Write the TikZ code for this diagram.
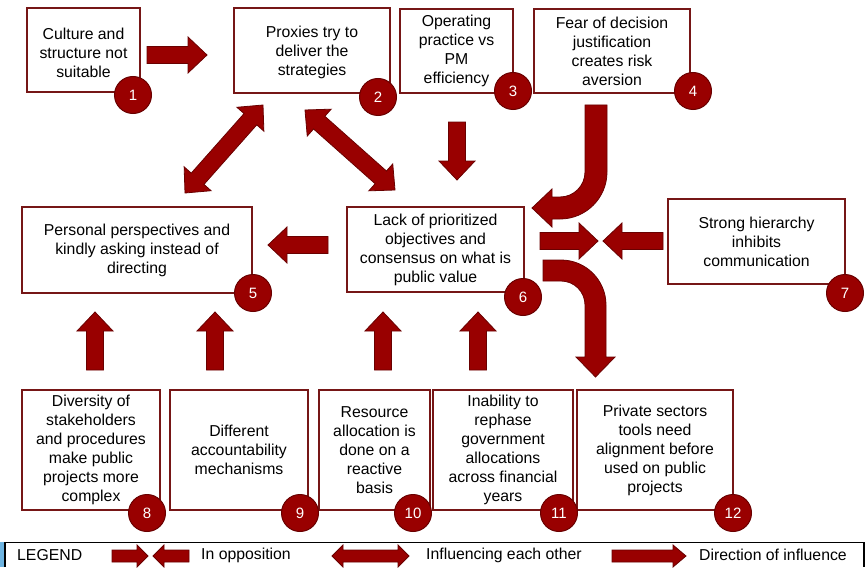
\documentclass[tikz,border=0pt]{standalone}
\usepackage{fontspec}
\setmainfont{Liberation Sans}
\usetikzlibrary{calc}

\newlength{\du}
\setlength{\du}{1pt}
\newcommand{\shaftw}{8.5pt}
\newcommand{\headw}{18pt}
\newcommand{\headl}{19pt}

\definecolor{arrowred}{RGB}{153,0,0}
\definecolor{arrowedge}{RGB}{105,0,0}
\definecolor{boxedge}{RGB}{118,22,22}
\definecolor{legendblue}{RGB}{110,180,225}

\tikzset{
  factor/.style={draw=boxedge, line width=2\du, fill=white, align=center, inner sep=0pt,
    font=\fontsize{15.8}{19}\selectfont},
  badge/.style={circle, draw=arrowedge, line width=1\du, fill=arrowred, text=white,
    minimum size=37\du, inner sep=0pt, font=\fontsize{15}{15}\selectfont},
  blockarrow/.style={draw=arrowedge, line width=0.8\du, fill=arrowred, line join=miter},
  legendtext/.style={anchor=west, inner sep=0pt, font=\fontsize{15.8}{19}\selectfont}
}

% single block arrow from #1 to #2
\newcommand{\barrow}[2]{%
  \path ($(#2)!\headl!(#1)$) coordinate (hb);
  \draw[blockarrow] ($(#1)!\shaftw!90:(#2)$) -- ($(hb)!\shaftw!-90:(#1)$) -- ($(hb)!\headw!-90:(#1)$)
    -- (#2) -- ($(hb)!\headw!90:(#1)$) -- ($(hb)!\shaftw!90:(#1)$) -- ($(#1)!\shaftw!-90:(#2)$) -- cycle;}
% block arrow with two heads
\newcommand{\dbarrow}[2]{%
  \path ($(#2)!\headl!(#1)$) coordinate (hb) ($(#1)!\headl!(#2)$) coordinate (ha);
  \draw[blockarrow] (#1) -- ($(ha)!\headw!90:(#2)$) -- ($(ha)!\shaftw!90:(#2)$) -- ($(hb)!\shaftw!-90:(#1)$)
    -- ($(hb)!\headw!-90:(#1)$) -- (#2) -- ($(hb)!\headw!90:(#1)$) -- ($(hb)!\shaftw!90:(#1)$)
    -- ($(ha)!\shaftw!-90:(#2)$) -- ($(ha)!\headw!-90:(#2)$) -- cycle;}

\begin{document}
\begin{tikzpicture}
\pgftransformxscale{1.000000}
\pgftransformyscale{-1.000000}
\useasboundingbox (0\du,0\du) rectangle (866\du,567\du);

\node[factor, minimum width=113\du, minimum height=84\du] (b1) at (83.5\du,50\du) {\rule{0pt}{17\du}Culture and\\structure not\\suitable};
\node[factor, minimum width=156\du, minimum height=85\du] (b2) at (312\du,50.5\du) {\rule{0pt}{16\du}Proxies try to\\deliver the\\strategies};
\node[factor, minimum width=113\du, minimum height=84\du] (b3) at (456.5\du,51\du) {Operating\\practice vs\\PM\\efficiency};
\node[factor, minimum width=156\du, minimum height=84\du] (b4) at (612\du,51\du) {Fear of decision\\justification\\creates risk\\aversion};
\node[factor, minimum width=230\du, minimum height=86\du] (b5) at (137\du,250\du) {Personal perspectives and\\kindly asking instead of\\directing};
\node[factor, minimum width=177\du, minimum height=85\du] (b6) at (435.5\du,249.5\du) {Lack of prioritized\\objectives and\\consensus on what is\\public value};
\node[factor, minimum width=177\du, minimum height=85\du] (b7) at (756.5\du,241.5\du) {Strong hierarchy\\inhibits\\communication};
\node[factor, minimum width=138\du, minimum height=120\du] (b8) at (91\du,450\du) {Diversity of\\stakeholders\\and procedures\\make public\\projects more\\complex};
\node[factor, minimum width=138\du, minimum height=120\du] (b9) at (239\du,450\du) {Different\\accountability\\mechanisms};
\node[factor, minimum width=111\du, minimum height=120\du] (b10) at (374.5\du,450\du) {Resource\\allocation is\\done on a\\reactive\\basis};
\node[factor, minimum width=140\du, minimum height=120\du] (b11) at (503\du,450\du) {Inability to\\rephase\\government\\allocations\\across financial\\years};
\node[factor, minimum width=156\du, minimum height=120\du] (b12) at (655\du,450\du) {Private sectors\\tools need\\alignment before\\used on public\\projects};

\node[badge] (n1) at (133\du,95\du) {1};
\node[badge] (n2) at (378\du,97\du) {2};
\node[badge] (n3) at (513\du,91\du) {3};
\node[badge] (n4) at (693\du,91\du) {4};
\node[badge] (n5) at (253\du,293\du) {5};
\node[badge] (n6) at (523\du,297\du) {6};
\node[badge] (n7) at (845\du,293\du) {7};
\node[badge] (n8) at (147\du,513\du) {8};
\node[badge] (n9) at (300\du,513\du) {9};
\node[badge] (n10) at (413\du,513\du) {10};
\node[badge] (n11) at (559\du,513\du) {11};
\node[badge] (n12) at (733\du,513\du) {12};

\coordinate (a12s) at (147\du,55\du);
\coordinate (a12e) at (207\du,55\du);
\coordinate (d25a) at (263\du,105\du);
\coordinate (d25b) at (185\du,193\du);
\coordinate (d26a) at (305\du,110\du);
\coordinate (d26b) at (395\du,190\du);
\coordinate (a36s) at (457\du,122\du);
\coordinate (a36e) at (457\du,180\du);
\coordinate (a65s) at (328\du,245\du);
\coordinate (a65e) at (268\du,245\du);
\coordinate (a6ms) at (540\du,241\du);
\coordinate (a6me) at (598\du,241\du);
\coordinate (a7ms) at (663\du,241\du);
\coordinate (a7me) at (603\du,241\du);
\coordinate (a85s) at (95\du,370\du);
\coordinate (a85e) at (95\du,312\du);
\coordinate (a95s) at (215\du,370\du);
\coordinate (a95e) at (215\du,312\du);
\coordinate (a106s) at (383\du,370\du);
\coordinate (a106e) at (383\du,312\du);
\coordinate (a116s) at (478\du,370\du);
\coordinate (a116e) at (478\du,312\du);

\barrow{a12s}{a12e}
\dbarrow{d25a}{d25b}
\dbarrow{d26a}{d26b}
\barrow{a36s}{a36e}
\barrow{a65s}{a65e}
\barrow{a6ms}{a6me}
\barrow{a7ms}{a7me}
\barrow{a85s}{a85e}
\barrow{a95s}{a95e}
\barrow{a106s}{a106e}
\barrow{a116s}{a116e}

% bent arrows 4 -> 6 and 6 -> 12
\draw[blockarrow] (607\du,105\du) -- (607\du,172\du) arc[start angle=0, end angle=90, radius=47\du]
  -- (552\du,219\du) -- (552\du,227\du) -- (532\du,208\du) -- (552\du,189\du) -- (552\du,197\du)
  -- (560\du,197\du) arc[start angle=90, end angle=0, radius=25\du] -- (585\du,105\du) -- cycle;
\draw[blockarrow] (543\du,260\du) -- (561\du,260\du) arc[start angle=-90, end angle=0, radius=45\du]
  -- (606\du,357\du) -- (615\du,357\du) -- (595.5\du,377\du) -- (576\du,357\du) -- (585\du,357\du)
  -- (585\du,305\du) arc[start angle=0, end angle=-90, radius=24\du] -- (543\du,281\du) -- cycle;

% legend
\fill[legendblue] (0\du,542\du) rectangle (4\du,567\du);
\draw[line width=1.5\du] (5\du,567\du) -- (5\du,542.5\du) -- (864\du,542.5\du) -- (864\du,567\du);
\node[legendtext] (lgd) at (17\du,555\du) {LEGEND};
\renewcommand{\shaftw}{6pt}
\renewcommand{\headw}{11pt}
\renewcommand{\headl}{11pt}
\coordinate (l1s) at (112\du,556\du);
\coordinate (l1e) at (148\du,556\du);
\coordinate (l2s) at (189\du,556\du);
\coordinate (l2e) at (153\du,556\du);
\coordinate (l3a) at (332\du,556\du);
\coordinate (l3b) at (409\du,556\du);
\coordinate (l4s) at (612\du,556\du);
\coordinate (l4e) at (686\du,556\du);
\barrow{l1s}{l1e}
\barrow{l2s}{l2e}
\dbarrow{l3a}{l3b}
\renewcommand{\headl}{13pt}
\barrow{l4s}{l4e}
\node[legendtext] (lopp) at (201\du,555\du) {In opposition};
\node[legendtext] (linf) at (426\du,555\du) {Influencing each other};
\node[legendtext] (ldir) at (699\du,555\du) {Direction of influence};

\end{tikzpicture}
\end{document}
